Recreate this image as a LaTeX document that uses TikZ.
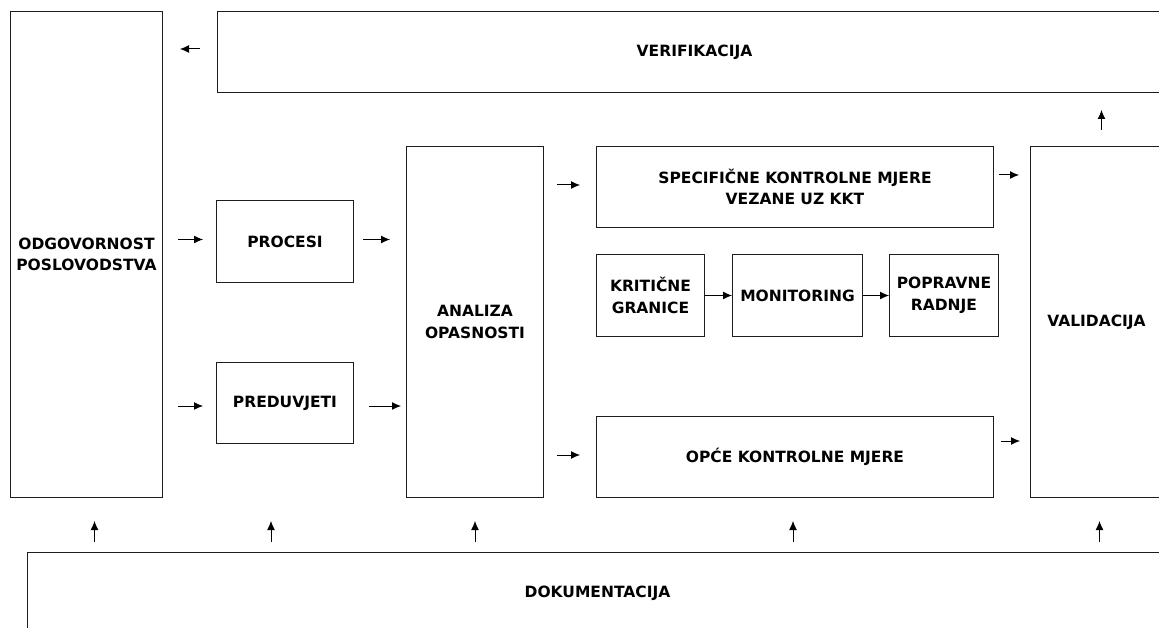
\documentclass[tikz,border=0pt]{standalone}
\usepackage{fontspec}
\setmainfont{DejaVu Sans}
\usetikzlibrary{arrows.meta}
\usetikzlibrary{positioning}
\definecolor{ln}{RGB}{30,30,30}

\begin{document}
\begin{tikzpicture} [
    x=1pt, y=-1pt,
    box/.style={
        font=\fontsize{15.5}{21.7}\selectfont\bfseries,
        align=center, anchor=north west,
        draw=ln, line width=1pt,
        inner sep=0pt
    },
    arr/.style={
        -{Latex[length=9pt,width=8pt]},
        line width=1pt
    }
]

\useasboundingbox (0,0) rectangle (1159,628);
\clip (0,0) rectangle (1159,628);

\node [box,minimum width=152,minimum height=486] (odg) at (10,11)    {ODGOVORNOST\\POSLOVODSTVA};
\node [box,minimum width=954,minimum height=81]  (verif) at (217,11) {VERIFIKACIJA};
\node [box,minimum width=137,minimum height=82]  (procesi) at (216,200) {PROCESI};
\node [box,minimum width=137,minimum height=81]  (preduv) at (216,362)  {PREDUVJETI};
\node [box,minimum width=137,minimum height=351] (analiza) at (406,146) {ANALIZA\\OPASNOSTI};
\node [box,minimum width=397,minimum height=81]  (spec) at (596,146) {SPECIFIČNE KONTROLNE MJERE\\VEZANE UZ KKT};
\node [box,minimum width=108,minimum height=82]  (krit) at (596,254) {KRITIČNE\\GRANICE};
\node [box,minimum width=130,minimum height=82]  (monit) at (732,254) {MONITORING};
\node [box,minimum width=109,minimum height=82]  (poprav) at (889,254) {POPRAVNE\\RADNJE};
\node [box,minimum width=397,minimum height=81]  (opce) at (596,416) {OPĆE KONTROLNE MJERE};
\node [box,minimum width=132,minimum height=351] (valid) at (1030,146) {VALIDACIJA};
\node [box,minimum width=1140,minimum height=82] (dok) at (27,552) {DOKUMENTACIJA};

% left part
\draw [arr,shorten <=17pt,shorten >=17pt] ([yshift=3pt]verif.west) -- ([yshift=3pt]odg.east |- verif.west);
\draw [arr,shorten <=15pt,shorten >=13pt] ([yshift=2pt]odg.east |- procesi.west) -- ([yshift=2pt]procesi.west);
\draw [arr,shorten <=15pt,shorten >=13pt] ([yshift=-3pt]odg.east |- preduv.west) -- ([yshift=-3pt]preduv.west);
\draw [arr,shorten <=9pt,shorten >=16pt] ([yshift=2pt]procesi.east) -- ([yshift=2pt]procesi.east -| analiza.west);
\draw [arr,shorten <=15pt,shorten >=5pt] ([yshift=-3pt]preduv.east) -- ([yshift=-3pt]preduv.east -| analiza.west);

% control measures
\draw [arr,shorten <=13pt,shorten >=16pt] ([yshift=2pt]analiza.east |- spec.west) -- ([yshift=2pt]spec.west);
\draw [arr,shorten <=13pt,shorten >=16pt] ([yshift=2pt]analiza.east |- opce.west) -- ([yshift=2pt]opce.west);
\draw [arr] (krit) -- (monit);
\draw [arr] (monit) -- (poprav);
\draw [arr,shorten <=5pt,shorten >=11pt] ([yshift=12pt]spec.east) -- ([yshift=12pt]spec.east -| valid.west);
\draw [arr,shorten <=7pt,shorten >=10pt] ([yshift=16pt]opce.east) -- ([yshift=16pt]opce.east -| valid.west);
\draw [arr,shorten <=16pt,shorten >=17pt] ([xshift=5pt]valid.north) -- ([xshift=5pt]valid.north |- verif.south);

% documentation
\foreach \n/\dx in {odg/8, preduv/-14, analiza/0, spec/-2, valid/3}
    \draw [arr,shorten <=10pt,shorten >=23pt]
        ([xshift=\dx pt]\n.south |- dok.north) -- ([xshift=\dx pt]\n.south |- odg.south);

\end{tikzpicture}
\end{document}
